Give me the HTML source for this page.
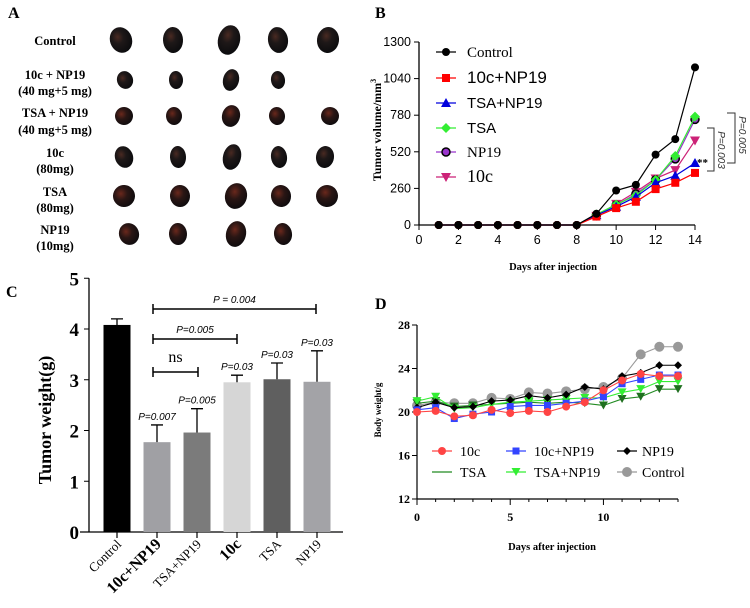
<!DOCTYPE html>
<html><head><meta charset="utf-8"><style>
html,body{margin:0;padding:0;background:#fff;width:750px;height:608px;overflow:hidden}
svg{display:block}
.b{font-family:"Liberation Serif",serif;font-weight:bold}
.s{font-family:"Liberation Sans",sans-serif}
.sr{font-family:"Liberation Serif",serif}
</style></head><body>
<svg id="fig" width="750" height="608" viewBox="0 0 750 608" xmlns="http://www.w3.org/2000/svg">
<defs>
<radialGradient id="tg" cx="40%" cy="35%" r="65%"><stop offset="0" stop-color="#4a2a22"/><stop offset="0.4" stop-color="#1e1818"/><stop offset="1" stop-color="#0c0c0e"/></radialGradient>
<radialGradient id="tr" cx="40%" cy="35%" r="65%"><stop offset="0" stop-color="#6a281c"/><stop offset="0.45" stop-color="#2a1614"/><stop offset="1" stop-color="#100c0e"/></radialGradient>
</defs>
<g id="panelA"></g>
<g id="panelB"></g>
<g id="panelC"></g>
<g id="panelD"></g>
</svg>
<script>
const NS="http://www.w3.org/2000/svg";
function mk(p,t,a,txt){const e=document.createElementNS(NS,t);for(const k in a)e.setAttribute(k,a[k]);if(txt!==undefined)e.textContent=txt;p.appendChild(e);return e;}

// ---------- Panel A ----------
const aGroups=["Control","10c + NP19|(40 mg+5 mg)","TSA + NP19|(40 mg+5 mg)","10c|(80mg)","TSA|(80mg)","NP19|(10mg)"];
const aLabelY=[[41],[75,91],[113,130],[153,169],[192,208],[230,246]];
const aRows=[[121,173,229,278,328],[125,176,231,278],[124,174,231,277,330],[124,178,232,279,325],[124,180,236,281,327],[129,178,236,283]];
const aRowY=[40,80,116,157,196,234];
const aSizes=[[11,13],[8,9],[9,9],[9,11],[11,11],[10,11]];
(function(){
const g=document.getElementById('panelA');
let t=mk(g,'text',{x:8,y:18,'font-size':16,class:'b'},'A');


aGroups.forEach((lab,i)=>{
 lab.split('|').forEach((ln,j)=>{
  const e=mk(g,'text',{x:55,y:aLabelY[i][j]+4,'font-size':12.5,'text-anchor':'middle',class:'b'},ln);
  
  
 });
 aRows[i].forEach((x,k)=>{
  const rx=aSizes[i][0]-(k%2), ry=aSizes[i][1]+(k%3==2?2:0);
  const e=mk(g,'ellipse',{cx:x,cy:aRowY[i],rx:rx,ry:ry,fill:(i==2||i==4||i==5)?'url(#tr)':'url(#tg)',transform:`rotate(${(k*17)%40-20} ${x} ${aRowY[i]})`});
  
  
 });
});
})();

// ---------- Panel B ----------
const bDays=[1,2,3,4,5,6,7,8,9,10,11,12,13,14];
const bControl=[0,0,0,0,0,0,0,0,80,245,285,500,610,1120];
const b10cNP19=[0,0,0,0,0,0,0,0,60,120,165,255,300,370];
const bTSANP19=[0,0,0,0,0,0,0,0,70,130,200,300,350,440];
const bTSA=[0,0,0,0,0,0,0,0,75,145,210,320,490,770];
const bNP19=[0,0,0,0,0,0,0,0,70,140,220,320,470,750];
const b10c=[0,0,0,0,0,0,0,0,65,150,235,330,390,600];
const bYTicks=[0,260,520,780,1040,1300];
const bXTicks=[0,2,4,6,8,10,12,14];
(function(){
const g=document.getElementById('panelB');
const X=v=>419+v*(276/14), Y=v=>225-v*(183/1300);
let e=mk(g,'text',{x:375,y:18,'font-size':16,class:'b'},'B');


e=mk(g,'line',{x1:419,y1:Y(1300),x2:419,y2:225,stroke:'#000','stroke-width':1.3});


e=mk(g,'line',{x1:419,y1:225,x2:X(14),y2:225,stroke:'#000','stroke-width':1.3});


bYTicks.forEach(v=>{mk(g,'line',{x1:414,y1:Y(v),x2:419,y2:Y(v),stroke:'#000'});
 e=mk(g,'text',{x:411,y:Y(v)+4,'font-size':12.5,'text-anchor':'end',class:'s'},v);
 
 });
bXTicks.forEach(v=>{mk(g,'line',{x1:X(v),y1:225,x2:X(v),y2:230,stroke:'#000'});
 e=mk(g,'text',{x:X(v),y:244,'font-size':12.5,'text-anchor':'middle',class:'s'},v);
 
 });
e=mk(g,'text',{x:553,y:270,'font-size':10.5,'text-anchor':'middle',class:'b'},'Days after injection');


e=mk(g,'text',{x:0,y:0,'font-size':12,'text-anchor':'middle',class:'b',transform:'translate(381,130) rotate(-90)'});
e.innerHTML='Tumor volume/mm<tspan font-size="8" dy="-5">3</tspan>';


const series=[
 {n:'Control',d:bControl,c:'#000',f:'#000',m:'c'},
 {n:'10c+NP19',d:b10cNP19,c:'#ff0000',f:'#ff0000',m:'s'},
 {n:'TSA+NP19',d:bTSANP19,c:'#0000dd',f:'#0000dd',m:'t'},
 {n:'TSA',d:bTSA,c:'#33ee33',f:'#33ee33',m:'d'},
 {n:'NP19',d:bNP19,c:'#9933cc',f:'#9933cc',m:'o'},
 {n:'10c',d:b10c,c:'#cc2277',f:'#cc2277',m:'v'}];
function marker(p,m,x,y,c){
 if(m=='c')return mk(p,'circle',{cx:x,cy:y,r:4,fill:c});
 if(m=='s')return mk(p,'rect',{x:x-4,y:y-4,width:8,height:8,fill:c});
 if(m=='t')return mk(p,'path',{d:`M${x} ${y-5}L${x+5} ${y+4}L${x-5} ${y+4}Z`,fill:c});
 if(m=='d')return mk(p,'path',{d:`M${x} ${y-5}L${x+5} ${y}L${x} ${y+5}L${x-5} ${y}Z`,fill:c});
 if(m=='o')return mk(p,'circle',{cx:x,cy:y,r:4,fill:c,stroke:'#000','stroke-width':1.5});
 if(m=='v')return mk(p,'path',{d:`M${x} ${y+5}L${x+5} ${y-4}L${x-5} ${y-4}Z`,fill:c});
}
[...series].reverse().forEach(s=>{
 const sg=mk(g,'g',{});
 
 
 mk(sg,'polyline',{points:bDays.map((d,i)=>X(d)+','+Y(s.d[i])).join(' '),fill:'none',stroke:s.c,'stroke-width':1.2});
 bDays.forEach((d,i)=>{const mm=marker(sg,d<=8?'c':s.m,X(d),Y(s.d[i]),d<=8?(s===series[1]?'#d00':'#000'):s.f);
  
  });
});
const ly=[52,78,103,128,152,177];
const lfs=[{f:'sr',s:15},{f:'s',s:17},{f:'s',s:15},{f:'s',s:15},{f:'sr',s:15},{f:'sr',s:18}];
series.forEach((s,i)=>{
 const lg=mk(g,'g',{});
 
 
 mk(lg,'line',{x1:436,y1:ly[i],x2:456,y2:ly[i],stroke:s.c,'stroke-width':1.2});
 marker(lg,s.m,446,ly[i],s.f);
 mk(lg,'text',{x:467,y:ly[i]+5,'font-size':lfs[i].s,class:lfs[i].f},s.n);
});
e=mk(g,'path',{d:'M727 113H735V163H727',fill:'none',stroke:'#333','stroke-width':1});


e=mk(g,'text',{x:0,y:0,'font-size':10,'font-style':'italic','text-anchor':'middle',class:'s',fill:'#333',transform:'translate(739,135) rotate(90)'},'P=0.005');


e=mk(g,'path',{d:'M707 128H714V171H707',fill:'none',stroke:'#333','stroke-width':1});


e=mk(g,'text',{x:0,y:0,'font-size':10,'font-style':'italic','text-anchor':'middle',class:'s',fill:'#333',transform:'translate(718,150) rotate(90)'},'P=0.003');


e=mk(g,'text',{x:697,y:166,'font-size':11,class:'b'},'**');


})();

// ---------- Panel C ----------
const cCats=["Control","10c+NP19","TSA+NP19","10c","TSA","NP19"];
const cVals=[4.08,1.77,1.96,2.95,3.01,2.96];
const cErr=[0.12,0.34,0.47,0.14,0.32,0.61];
const cPvals=["","P=0.007","P=0.005","P=0.03","P=0.03","P=0.03"];
const cYTicks=[0,1,2,3,4,5];
const cColors=['#000','#a0a0a4','#7b7b7b','#d6d6d6','#5f5f5f','#a3a3a7'];
(function(){
const g=document.getElementById('panelC');
const Y=v=>532-v*50.75, X=i=>117+i*40;
let e=mk(g,'text',{x:6,y:297,'font-size':16,class:'b'},'C');


e=mk(g,'line',{x1:89,y1:Y(5),x2:89,y2:532,stroke:'#000','stroke-width':1.3});


e=mk(g,'line',{x1:80,y1:532,x2:343,y2:532,stroke:'#000','stroke-width':1.3});


cYTicks.forEach(v=>{mk(g,'line',{x1:84,y1:Y(v),x2:89,y2:Y(v),stroke:'#000'});
 e=mk(g,'text',{x:79,y:Y(v)+7,'font-size':19,'text-anchor':'end',class:'b'},v);
 
 });
e=mk(g,'text',{x:0,y:0,'font-size':18,'text-anchor':'middle',class:'b',transform:'translate(51,420) rotate(-90)'},'Tumor weight(g)');


cCats.forEach((c,i)=>{
 const x=X(i);
 e=mk(g,'rect',{x:x-13.5,y:Y(cVals[i]),width:27,height:532-Y(cVals[i]),fill:cColors[i]});
 
 
 const top=Y(cVals[i]+cErr[i]);
 e=mk(g,'path',{d:`M${x} ${Y(cVals[i])}V${top}M${x-6} ${top}H${x+6}`,stroke:'#000','stroke-width':1.3,fill:'none'});
 
 
 mk(g,'line',{x1:x,y1:532,x2:x,y2:538,stroke:'#000','stroke-width':1.2});
 const big=(c=='10c+NP19'||c=='10c');
 e=mk(g,'text',{x:0,y:0,'font-size':big?16:13,'text-anchor':'end',class:big?'b':'sr',transform:`translate(${x+5},${545}) rotate(-45)`},c);
 
 
 if(cPvals[i]){e=mk(g,'text',{x:x,y:top-5,'font-size':10,'font-style':'italic','text-anchor':'middle',class:'s'},cPvals[i]);
  
  }
});
function br(x1,x2,y,lab,ly,fs,cls){
 e=mk(g,'path',{d:`M${x1} ${y-5}V${y+5}M${x1} ${y}H${x2}M${x2} ${y-5}V${y+5}`,stroke:'#000','stroke-width':1.5,fill:'none'});
 
 
 e=mk(g,'text',{x:(x1+x2)/2,y:ly,'font-size':fs,'text-anchor':'middle',class:cls,'font-style':cls=='s'?'italic':'normal'},lab);
 
 
}
br(153,316,309,'P = 0.004',303,10,'s');
br(153,237,339,'P=0.005',333,10,'s');
br(153,198,372,'ns',362,16,'sr');
})();

// ---------- Panel D ----------
const dDays=[0,1,2,3,4,5,6,7,8,9,10,11,12,13,14];
const d10c=[20.0,20.1,19.6,19.7,20.2,19.9,20.1,20.0,20.5,20.9,22.0,22.9,23.5,23.3,23.3];
const d10cNP19=[20.2,20.4,19.4,19.8,20.0,20.5,20.6,20.6,20.8,21.0,21.4,22.6,23.0,23.4,23.4];
const dNP19=[20.4,20.9,20.4,20.5,21.0,21.1,21.5,21.3,21.6,22.3,22.1,23.3,23.6,24.3,24.3];
const dTSA=[20.8,21.0,20.5,20.6,20.7,20.8,20.9,20.8,20.9,20.8,20.6,21.2,21.4,22.1,22.1];
const dTSANP19=[21.0,21.4,20.3,20.4,20.7,20.9,21.0,21.1,21.2,21.3,21.3,21.8,22.1,22.8,22.8];
const dControl=[20.6,20.9,20.8,20.8,21.3,21.2,21.8,21.7,21.9,22.1,22.3,23.1,25.3,26.0,26.0];
const dYTicks=[12,16,20,24,28];
const dXTicks=[0,5,10];
(function(){
const g=document.getElementById('panelD');
const X=v=>417+v*(261/14), Y=v=>499-(v-12)*(174/16);
let e=mk(g,'text',{x:375,y:309,'font-size':16,class:'b'},'D');


e=mk(g,'line',{x1:417,y1:Y(28),x2:417,y2:499,stroke:'#000','stroke-width':1.2});


e=mk(g,'line',{x1:417,y1:499,x2:X(14),y2:499,stroke:'#000','stroke-width':1.2});


dYTicks.forEach(v=>{mk(g,'line',{x1:412,y1:Y(v),x2:417,y2:Y(v),stroke:'#000'});
 e=mk(g,'text',{x:410,y:Y(v)+4,'font-size':12,'text-anchor':'end',class:'b'},v);
 
 });
dDays.forEach(v=>mk(g,'line',{x1:X(v),y1:499,x2:X(v),y2:dXTicks.includes(v)?505:502,stroke:'#000'}));
dXTicks.forEach(v=>{e=mk(g,'text',{x:X(v),y:521,'font-size':12,'text-anchor':'middle',class:'b'},v);
 
 });
e=mk(g,'text',{x:552,y:550,'font-size':10.5,'text-anchor':'middle',class:'b'},'Days after injection');


e=mk(g,'text',{x:0,y:0,'font-size':9,'text-anchor':'middle',class:'b',transform:'translate(381,410) rotate(-90)'},'Body weight/g');


const S=[
 {n:'Control',d:dControl,c:'#999',m:'bc'},
 {n:'TSA',d:dTSA,c:'#228b22',m:'v',mc:'#1f6f1f'},
 {n:'TSA+NP19',d:dTSANP19,c:'#33ee33',m:'v'},
 {n:'NP19',d:dNP19,c:'#000',m:'d'},
 {n:'10c+NP19',d:d10cNP19,c:'#3344ff',m:'s'},
 {n:'10c',d:d10c,c:'#ff4444',m:'c'}];
function mark(p,m,x,y,c){
 if(m=='c')return mk(p,'circle',{cx:x,cy:y,r:4,fill:c});
 if(m=='bc')return mk(p,'circle',{cx:x,cy:y,r:5,fill:c});
 if(m=='s')return mk(p,'rect',{x:x-3.5,y:y-3.5,width:7,height:7,fill:c});
 if(m=='d')return mk(p,'path',{d:`M${x} ${y-4}L${x+4} ${y}L${x} ${y+4}L${x-4} ${y}Z`,fill:c});
 if(m=='v')return mk(p,'path',{d:`M${x} ${y+4}L${x+4.5} ${y-4}L${x-4.5} ${y-4}Z`,fill:c});
}
S.forEach(s=>{
 const sg=mk(g,'g',{});
 
 
 mk(sg,'polyline',{points:dDays.map((d,i)=>X(d)+','+Y(s.d[i])).join(' '),fill:'none',stroke:s.c,'stroke-width':1.1});
 dDays.forEach((d,i)=>{const m=mark(sg,s.m,X(d),Y(s.d[i]),s.mc||s.c);
  
  });
});
const L=[
 {n:'10c',c:'#ff4444',m:'c',x:442,y:451},{n:'10c+NP19',c:'#3344ff',m:'s',x:516,y:451},{n:'NP19',c:'#000',m:'d',x:627,y:451},
 {n:'TSA',c:'#228b22',m:null,x:442,y:472},{n:'TSA+NP19',c:'#33ee33',m:'v',x:516,y:472},{n:'Control',c:'#999',m:'bc',x:627,y:472}];
L.forEach(l=>{
 const lg=mk(g,'g',{});
 
 
 mk(lg,'line',{x1:l.x-10,y1:l.y,x2:l.x+10,y2:l.y,stroke:l.c,'stroke-width':1.2});
 if(l.m)mark(lg,l.m,l.x,l.y,l.c);
 mk(lg,'text',{x:l.x+(l.x==627?15:18),y:l.y+5,'font-size':14,class:'sr'},l.n);
});
})();
</script>
</body></html>
